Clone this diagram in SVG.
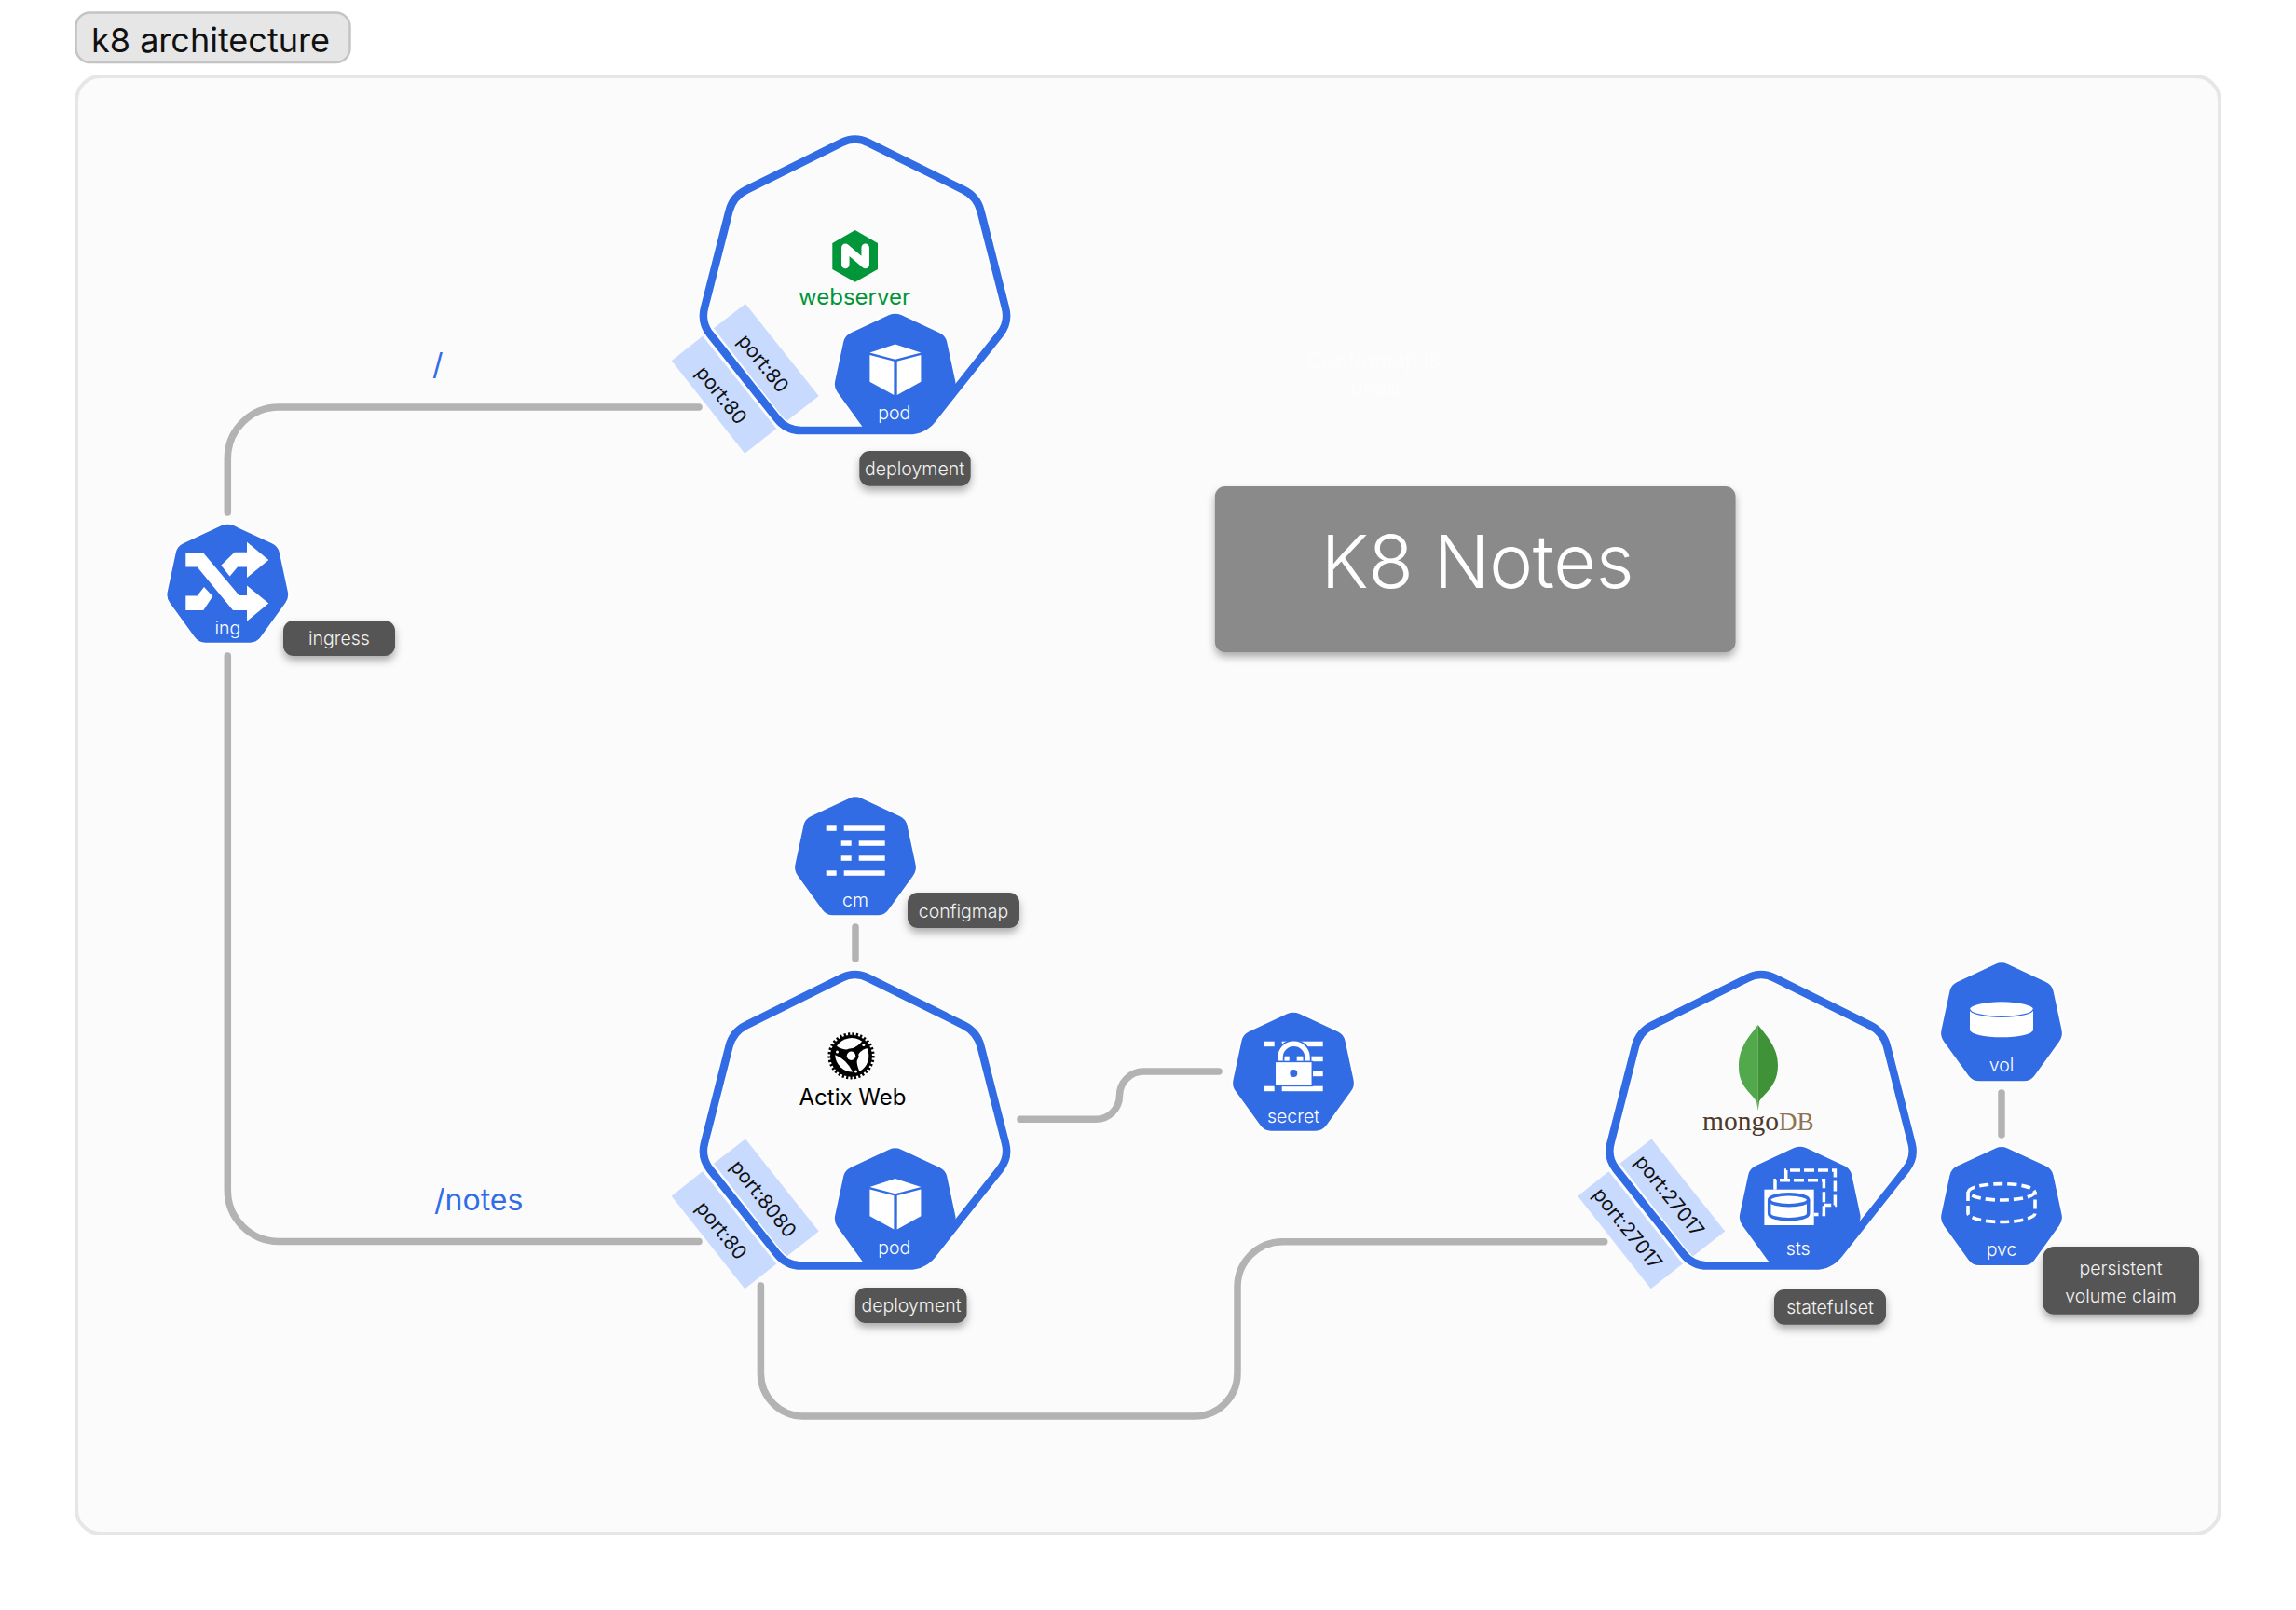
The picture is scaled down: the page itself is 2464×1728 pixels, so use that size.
<svg xmlns="http://www.w3.org/2000/svg" xmlns:xlink="http://www.w3.org/1999/xlink" width="2464" height="1728" viewBox="0 0 2464 1728">
<style>
text{font-family:Inter,"Noto Sans","Liberation Sans",sans-serif}
.k{fill:#326ce5;stroke:#fff;stroke-width:4;paint-order:stroke}
.ct{fill:none;stroke:#326ce5;stroke-width:8.5}
.ch{fill:none;stroke:#fff;stroke-width:11.5}
.w{fill:#fff}
.nl{fill:#fff;font-size:19.5px;font-weight:350;text-anchor:middle}
.pill{fill:#545454;filter:url(#sh)}
.pt{fill:#f2f2f2;font-size:19.5px;font-weight:350;text-anchor:middle}
.port{fill:#c9daff}
.pn{fill:#111;font-size:21px;text-anchor:middle}
.c{fill:none;stroke:#b3b3b3;stroke-width:7.5;stroke-linecap:round}
.rt{fill:#326ce5;font-size:32px}
.faint{fill:#fdfdfd;font-size:23px;text-anchor:middle}
</style>
<defs>
<filter id="sh" x="-20%" y="-20%" width="140%" height="170%"><feDropShadow dx="0" dy="5" stdDeviation="4" flood-color="#000" flood-opacity=".32"/></filter>
<path id="hept" d="M-6.4,1.4 Q0,-1.5 6.4,1.4 L47.6,20.6 Q54,23.5 55.5,30.3 L64.5,72.2 Q66,79 61.8,84.6 L35.2,121.4 Q31,127 24,127 L-24,127 Q-31,127 -35.2,121.4 L-61.8,84.6 Q-66,79 -64.5,72.2 L-55.5,30.3 Q-54,23.5 -47.6,20.6 Z"/>
<path id="big" d="M-14.3,7.1 Q0,0 14.3,7.1 L116.7,57.9 Q131,65 135,80.5 L161.5,184.5 Q165.5,200 155.6,212.5 L83.4,303.5 Q73.5,316 57.5,316 L-57.5,316 Q-73.5,316 -83.4,303.5 L-155.6,212.5 Q-165.5,200 -161.5,184.5 L-135,80.5 Q-131,65 -116.7,57.9 Z"/>
<g id="cube" class="w">
<polygon points="0,32.7 27.7,41.7 0,49 -27.3,41.7"/>
<polygon points="-27.3,44.3 -1.3,51 -1.3,87.3 -27.3,73"/>
<polygon points="2,51 27.7,44.3 27.7,73 2,87.3"/>
</g>
<g id="rows" class="w">
<rect x="-31.3" y="31" width="11" height="5.5"/><rect x="-12.3" y="31" width="44" height="5.5"/>
<rect x="-15.3" y="47" width="11" height="5.5"/><rect x="3.7" y="47" width="28" height="5.5"/>
<rect x="-15.3" y="63" width="11" height="5.5"/><rect x="3.7" y="63" width="28" height="5.5"/>
<rect x="-31.3" y="79" width="11" height="5.5"/><rect x="-12.3" y="79" width="44" height="5.5"/>
</g>
</defs>
<rect width="2464" height="1728" fill="#fff"/>
<g id="title">
<rect x="81.5" y="13.5" width="294" height="53.5" rx="15" fill="#e6e6e6" stroke="#c4c4c4" stroke-width="2.5"/>
<text x="98" y="55.5" font-size="36" fill="#111">k8 architecture</text>
</g>
<rect id="frame" x="82" y="82" width="2300" height="1564" rx="26" fill="#fbfbfb" stroke="#e6e6e6" stroke-width="4"/>
<g id="connectors">
<path class="c" d="M244.3,550 V492 A55,55 0 0 1 299.3,437 H750"/>
<path class="c" d="M244.3,704 V1277 A55,55 0 0 0 299.3,1332.5 H750"/>
<path class="c" d="M918,995 V1029"/>
<path class="c" d="M1095,1201.3 H1176 A25.5,25.5 0 0 0 1201.5,1175.8 A25.8,25.8 0 0 1 1227.3,1150 H1308"/>
<path class="c" d="M816.4,1380 V1474 A46,46 0 0 0 862.4,1520 H1282 A46,46 0 0 0 1328,1474 V1381 A48.5,48.5 0 0 1 1376.5,1332.7 H1721.7"/>
<path class="c" d="M2148,1173 V1218"/>
</g>
<g id="route-labels">
<text class="rt" x="464" y="402">/</text>
<text class="rt" x="466" y="1299">/notes</text>
</g>
<g id="webserver">
<g transform="translate(917.5,146)">
<polygon class="port" points="-163.5,214.7 -84.2,314 -118.2,340.7 -196.8,241.3"/>
<polygon class="port" points="-117.5,180 -38.8,279 -74.2,306.7 -151.5,206.3"/>
<use href="#big" class="ch"/>
<text class="pn" transform="translate(-143,278) rotate(51.4)" dy=".36em">port:80</text>
<text class="pn" transform="translate(-98,244) rotate(51.4)" dy=".36em">port:80</text>
</g>
<polygon fill="#009639" points="917.7,247 942,261 942,289 917.7,302.7 893.3,289 893.3,261"/>
<path d="M907.3,284 V265.7 L928.7,284 V265.7" fill="none" stroke="#fff" stroke-width="8.5" stroke-linecap="round" stroke-linejoin="round"/>
<text x="917" y="326.5" font-size="24" fill="#009639" text-anchor="middle">webserver</text>
<g id="pod-web" transform="translate(960.7,336.7)">
<use href="#hept" class="k"/><use href="#cube"/>
<text class="nl" x="-1" y="113">pod</text>
</g>
<use href="#big" class="ct" transform="translate(917.5,146)"/>
</g>
<rect class="pill" x="922.3" y="484" width="119.4" height="37.7" rx="11"/>
<text class="pt" x="981.5" y="510">deployment</text>
<g id="ingress" transform="translate(244.3,562.7)">
<use href="#hept" class="k"/>
<polygon class="w" points="-45,30.7 -26,30.7 12.3,76.3 20.7,76.3 20.7,65.7 44,84.7 20.7,104 20.7,92.3 5.7,92.3 -32.7,45.7 -45,45.7"/>
<polygon class="w" points="-7,44 7.3,30 20.7,30 20.7,19 44,38.3 20.7,57.3 20.7,45.7 10.7,45.7 2.3,55.7"/>
<polygon class="w" points="-45,76.7 -32.7,76.7 -25.3,67.3 -16,77.3 -26,92.3 -45,92.3"/>
<text class="nl" x="0" y="118">ing</text>
</g>
<rect class="pill" x="304" y="666" width="120" height="38" rx="11"/>
<text class="pt" x="364" y="692">ingress</text>
<g id="configmap" transform="translate(918,855.3)">
<use href="#hept" class="k"/><use href="#rows"/>
<text class="nl" x="0" y="118">cm</text>
</g>
<rect class="pill" x="974" y="958" width="120" height="38" rx="11"/>
<text class="pt" x="1034" y="984.5">configmap</text>
<g id="actix">
<g transform="translate(917.5,1042.5)">
<polygon class="port" points="-163.5,214.7 -84.2,314 -118.2,340.7 -196.8,241.3"/>
<polygon class="port" points="-117.5,180 -38.8,279 -74.2,306.7 -151.5,206.3"/>
<use href="#big" class="ch"/>
<text class="pn" transform="translate(-143,278) rotate(51.4)" dy=".36em">port:80</text>
<text class="pn" transform="translate(-98,244) rotate(51.4)" dy=".36em">port:8080</text>
</g>
<g transform="translate(913.5,1133.3)">
<circle r="22.5" fill="#000"/>
<circle r="23.3" fill="none" stroke="#000" stroke-width="3.6" stroke-dasharray="2.2 2.2"/>
<path class="w" d="M-15.5,-10.5 A19,19 0 0 1 11.7,-15.5 Q-2,-1 -15.5,-10.5Z"/>
<path class="w" d="M17,-8.2 A19,19 0 0 1 8.8,16.7 Q0.5,-2.8 17,-8.2Z"/>
<path class="w" d="M-17.3,-1 A19,19 0 0 0 1.7,17.3 Q-5.6,3.2 -17.3,-1Z"/>
<circle r="8" fill="#000"/>
<circle r="4.7" fill="#fff"/>
<circle cx="13.3" cy="-11.7" r="1.5" fill="#fff"/><circle cx="-15" cy="-4.3" r="1.5" fill="#fff"/><circle cx="5" cy="16.7" r="1.5" fill="#fff"/>
</g>
<text x="915" y="1186" font-size="24" fill="#000" text-anchor="middle">Actix Web</text>
<g id="pod-actix" transform="translate(960.7,1232.3)">
<use href="#hept" class="k"/><use href="#cube"/>
<text class="nl" x="-1" y="114">pod</text>
</g>
<use href="#big" class="ct" transform="translate(917.5,1042.5)"/>
</g>
<rect class="pill" x="918" y="1382" width="119.5" height="38" rx="11"/>
<text class="pt" x="978" y="1408">deployment</text>
<g id="secret" transform="translate(1388,1086.7)">
<use href="#hept" class="k"/><use href="#rows"/>
<path d="M-14,52 V48 A14.5,14.5 0 0 1 15,48 V52" fill="none" stroke="#326ce5" stroke-width="9"/>
<path d="M-14,52 V48 A14.5,14.5 0 0 1 15,48 V52" fill="none" stroke="#fff" stroke-width="5.5"/>
<rect x="-19.7" y="52.7" width="40" height="26" fill="#fff" stroke="#326ce5" stroke-width="1.5"/>
<circle cx="0.3" cy="65.3" r="4" fill="#326ce5"/>
<text class="nl" x="0" y="118">secret</text>
</g>
<g id="mongodb">
<g transform="translate(1890,1042.5)">
<polygon class="port" points="-163.5,214.7 -84.2,314 -118.2,340.7 -196.8,241.3"/>
<polygon class="port" points="-117.5,180 -38.8,279 -74.2,306.7 -151.5,206.3"/>
<use href="#big" class="ch"/>
<text class="pn" transform="translate(-143,276) rotate(51.4)" dy=".36em">port:27017</text>
<text class="pn" transform="translate(-98,241) rotate(51.4)" dy=".36em">port:27017</text>
</g>
<path d="M1886.7,1100 C1875,1115 1866,1125 1866,1145 C1866,1165 1878,1172 1885,1182 L1886.7,1192Z" fill="#52a94c"/>
<path d="M1886.7,1100 C1897,1113 1908,1125 1908,1143 C1908,1165 1895,1172 1888,1182 L1886.7,1192Z" fill="#3f9237"/>
<text x="1827" y="1213" font-size="29.5" style="font-family:'Liberation Serif',serif"><tspan fill="#4a3a30">mongo</tspan><tspan fill="#8b7355" font-size="27">DB</tspan></text>
<g id="sts" transform="translate(1931.7,1230.7)">
<use href="#hept" class="k"/>
<path d="M-15,36 V25.3 H37.7 V62.7 H26" fill="none" stroke="#fff" stroke-width="3.5" stroke-dasharray="11 4"/>
<path d="M-26.7,46 V36 H25.7 V72.7 H15" fill="none" stroke="#fff" stroke-width="3.5" stroke-dasharray="11 4"/>
<rect x="-38.3" y="46" width="53.3" height="38.3" fill="#fff"/>
<ellipse cx="-12" cy="57" rx="21" ry="6" fill="none" stroke="#326ce5" stroke-width="3.5"/>
<path d="M-33,57 V72 A21,6 0 0 0 9,72 V57" fill="none" stroke="#326ce5" stroke-width="3.5"/>
<text class="nl" x="-2" y="116.5">sts</text>
</g>
<use href="#big" class="ct" transform="translate(1890,1042.5)"/>
</g>
<rect class="pill" x="1904" y="1384" width="120" height="37.7" rx="11"/>
<text class="pt" x="1964" y="1409.5">statefulset</text>
<g id="vol" transform="translate(2148,1033.3)">
<use href="#hept" class="k"/>
<path class="w" d="M-34,50 V72 A34,8 0 0 0 34,72 V50 Z"/>
<ellipse class="w" cx="0" cy="50" rx="34" ry="8"/>
<path d="M-34,50 A34,8 0 0 0 34,50" fill="none" stroke="#326ce5" stroke-width="1.3"/>
<text class="nl" x="0" y="117">vol</text>
</g>
<g id="pvc" transform="translate(2148,1231)">
<use href="#hept" class="k"/>
<g fill="none" stroke="#fff" stroke-width="3.6" stroke-dasharray="10 5">
<ellipse cx="0" cy="48.3" rx="35.5" ry="8.7"/>
<path d="M-36,48 V71 A36,9.5 0 0 0 36,71 V48"/>
</g>
<text class="nl" x="0" y="117">pvc</text>
</g>
<rect class="pill" x="2192.3" y="1338" width="167.7" height="72.7" rx="12"/>
<text class="pt" x="2276" y="1367.5">persistent</text>
<text class="pt" x="2276" y="1397.5">volume claim</text>
<g id="notes">
<text class="faint" x="1474" y="395">Configmap is</text>
<text class="faint" x="1476" y="425">used</text>
<rect x="1303.8" y="522" width="558.8" height="178" rx="11" fill="#8a8a8a" filter="url(#sh)"/>
<text x="1585.5" y="631" font-size="79" font-weight="300" letter-spacing="-.3" fill="#fff" text-anchor="middle">K8 Notes</text>
</g>
</svg>
